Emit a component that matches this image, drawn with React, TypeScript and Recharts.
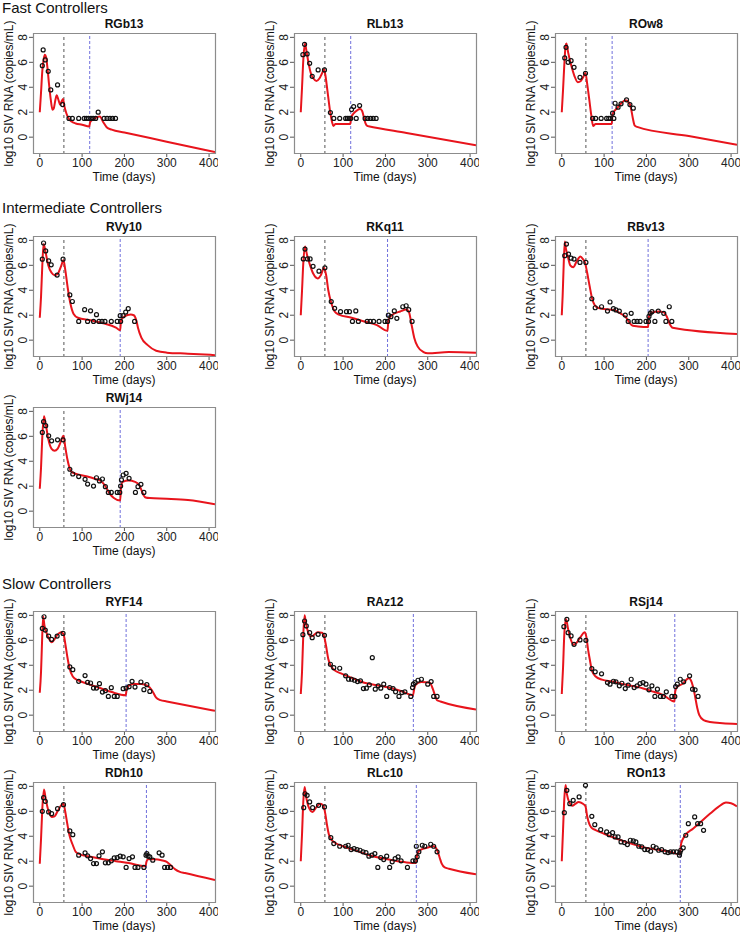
import React from "react";
import {
  ComposedChart,
  Line,
  Scatter,
  XAxis,
  YAxis,
  ReferenceLine,
} from "recharts";

type Pt = [number, number];

const FONT = "'Liberation Sans', Arial, Helvetica, sans-serif";
const X_DOMAIN: [number, number] = [-16, 414];
const Y_DOMAIN: [number, number] = [-1.35, 8.35];
const xTicks = [0, 100, 200, 300, 400];
const yTicks = [0, 2, 4, 6, 8];
const artStart = 57;
const groupTitles = ["Fast Controllers", "Intermediate Controllers", "Slow Controllers"];

// ---- Fast controllers ----
const rgb13Model: Pt[] = [[0,2.0],[3,3.6],[6,5.3],[9,6.2],[12,6.6],[15,6.4],[18,5.6],[22,4.2],[26,3.0],[30,2.2],[33,2.3],[37,3.0],[40,3.35],[44,3.0],[48,2.6],[52,2.9],[55,3.05],[58,2.5],[63,1.9],[68,1.5],[75,1.25],[85,1.1],[100,1.0],[117,0.85],[119,1.2],[125,1.4],[135,1.6],[142,1.65],[150,1.2],[158,0.8],[170,0.6],[200,0.38],[300,-0.36],[414,-1.2]];
const rgb13Obs: Pt[] = [[6,5.73],[8,6.99],[13,6.19],[20,5.28],[26,3.79],[42,4.19],[54,2.61],[69,1.5],[77,1.5],[92,1.5],[105,1.5],[110,1.5],[115,1.5],[121,1.5],[126,1.5],[132,1.5],[138,2.0],[152,1.5],[159,1.5],[166,1.5],[172,1.5],[179,1.5]];

const rlb13Model: Pt[] = [[0,2.0],[3,4.0],[6,6.2],[10,7.5],[13,7.0],[18,6.0],[24,5.1],[30,4.7],[37,4.5],[44,4.7],[50,5.1],[55,5.45],[58,5.0],[62,4.0],[66,2.9],[70,1.9],[74,1.2],[77,0.9],[82,1.05],[100,1.05],[117,1.05],[119,1.6],[125,1.9],[133,2.15],[140,2.25],[145,2.1],[149,1.6],[153,1.1],[157,0.9],[160,0.88],[250,0.34],[414,-0.65]];
const rlb13Obs: Pt[] = [[5,6.61],[9,7.44],[15,6.67],[21,5.92],[27,4.88],[41,5.39],[56,5.39],[70,1.97],[78,1.5],[92,1.5],[106,1.5],[110,1.5],[114,1.5],[118,1.5],[120,2.21],[125,2.45],[131,1.5],[139,2.53],[152,1.5],[158,1.5],[165,1.5],[171,1.5],[178,1.5]];

const row8Model: Pt[] = [[0,2.0],[3,3.8],[6,5.8],[9,7.3],[11,7.5],[15,6.8],[22,5.8],[30,4.9],[38,4.4],[45,4.5],[52,4.9],[56,5.15],[60,4.3],[65,3.0],[70,1.7],[74,0.9],[80,1.05],[100,1.05],[118,1.05],[120,1.85],[130,2.3],[140,2.7],[150,2.95],[158,2.8],[163,2.4],[168,1.5],[172,0.95],[178,0.82],[300,0.09],[414,-0.6]];
const row8Obs: Pt[] = [[7,6.35],[10,7.2],[15,6.0],[22,6.13],[29,5.6],[43,4.8],[56,5.12],[73,1.5],[80,1.5],[93,1.5],[106,1.5],[111,1.5],[115,1.5],[120,1.92],[123,1.5],[126,2.72],[133,2.4],[140,2.67],[153,2.99],[161,2.61],[169,2.32]];

// ---- Intermediate controllers ----
const rvy10Model: Pt[] = [[0,1.8],[3,3.5],[6,6.0],[9,7.7],[14,7.0],[20,6.0],[28,5.4],[35,5.2],[42,5.3],[50,5.9],[56,6.4],[60,5.7],[66,4.2],[72,3.0],[80,2.1],[90,1.8],[120,1.6],[150,1.35],[180,1.0],[190,0.8],[192,1.6],[200,1.9],[215,2.05],[222,2.0],[228,1.6],[232,1.0],[240,0.2],[255,-0.4],[275,-0.85],[300,-1.0],[350,-1.08],[414,-1.2]];
const rvy10Obs: Pt[] = [[6,6.49],[9,7.79],[14,7.15],[21,6.36],[27,6.04],[41,5.22],[55,6.49],[71,3.63],[77,3.1],[92,1.5],[106,2.44],[113,1.5],[120,2.35],[127,1.5],[134,2.04],[140,1.5],[147,1.5],[154,1.5],[169,1.5],[183,1.5],[190,1.96],[191,1.5],[197,1.96],[203,2.25],[209,2.52],[224,1.5]];

const rkq11Model: Pt[] = [[0,2.0],[3,4.0],[6,6.2],[10,7.5],[15,6.8],[22,6.0],[30,5.3],[40,4.95],[48,5.25],[55,5.8],[60,5.2],[65,4.0],[72,3.0],[80,2.3],[90,2.05],[120,1.8],[150,1.5],[180,1.2],[205,0.75],[207,1.6],[215,2.0],[235,2.3],[250,2.45],[256,2.2],[262,1.2],[268,0.2],[276,-0.5],[290,-0.95],[300,-1.05],[350,-0.95],[414,-1.0]];
const rkq11Obs: Pt[] = [[6,6.51],[10,7.3],[16,6.51],[22,6.51],[29,5.92],[43,5.53],[57,5.8],[72,3.09],[80,2.55],[94,2.28],[108,2.28],[115,2.28],[122,1.5],[130,2.34],[136,1.5],[157,1.5],[164,1.5],[172,1.5],[185,1.5],[199,1.5],[205,1.5],[207,2.0],[213,1.88],[221,2.34],[227,1.75],[241,2.68],[249,2.76],[255,2.44],[263,1.5]];

const rbv13Model: Pt[] = [[0,2.0],[2,3.5],[4,5.5],[7,7.9],[10,7.3],[15,6.6],[20,6.0],[27,5.85],[35,6.3],[44,6.7],[50,6.5],[55,6.2],[60,5.4],[66,4.3],[72,3.3],[78,2.8],[85,2.6],[100,2.5],[125,2.4],[140,2.1],[150,1.9],[160,1.4],[168,1.15],[180,1.1],[204,1.05],[206,1.9],[212,2.2],[230,2.3],[240,2.25],[248,1.9],[255,1.3],[262,1.0],[414,0.5]];
const rbv13Obs: Pt[] = [[7,6.77],[11,7.7],[16,6.9],[22,6.57],[29,6.5],[43,6.23],[57,6.23],[71,3.32],[79,2.6],[94,2.68],[108,2.33],[114,3.06],[122,2.52],[128,2.42],[136,2.33],[150,2.01],[157,1.5],[164,2.15],[171,1.5],[178,1.5],[185,1.5],[199,1.5],[205,1.5],[206,1.9],[209,2.15],[213,2.28],[220,1.5],[228,2.33],[241,2.15],[246,1.5],[254,2.68],[260,1.5]];

const rwj14Model: Pt[] = [[0,1.8],[3,3.5],[6,6.0],[10,7.6],[14,7.0],[20,5.8],[28,5.0],[35,4.85],[42,5.0],[50,5.6],[56,6.05],[60,5.2],[65,4.2],[70,3.5],[75,3.15],[90,2.95],[110,2.8],[130,2.6],[145,2.4],[155,2.0],[165,1.4],[175,1.05],[190,0.85],[192,1.9],[196,2.35],[210,2.45],[225,2.35],[235,2.1],[240,1.7],[245,1.3],[250,1.1],[260,1.05],[300,1.0],[350,0.9],[414,0.55]];
const rwj14Obs: Pt[] = [[6,6.31],[9,7.17],[14,6.85],[21,6.04],[28,5.64],[42,5.72],[55,5.72],[71,3.36],[78,2.98],[92,2.77],[107,2.55],[113,2.17],[127,2.01],[134,2.68],[141,2.42],[148,2.58],[155,1.96],[162,1.5],[169,1.5],[183,1.5],[189,1.5],[191,2.01],[193,2.5],[197,2.9],[204,3.03],[211,2.63],[226,1.5],[232,1.96],[239,2.15],[246,1.5]];

// ---- Slow controllers ----
const ryf14Model: Pt[] = [[0,1.8],[3,3.5],[5,5.5],[8,7.9],[11,7.2],[16,6.6],[22,6.1],[28,5.85],[35,6.1],[42,6.45],[50,6.65],[56,6.5],[60,5.8],[65,4.7],[70,3.8],[78,3.1],[90,2.8],[110,2.55],[140,2.2],[170,1.85],[203,1.6],[205,2.0],[210,2.35],[220,2.5],[240,2.5],[255,2.35],[265,2.0],[275,1.4],[285,1.2],[300,1.1],[414,0.35]];
const ryf14Obs: Pt[] = [[6,6.95],[10,7.89],[13,6.82],[21,6.34],[28,6.07],[41,6.34],[55,6.55],[71,3.87],[78,3.65],[92,2.71],[107,3.17],[113,2.63],[120,2.58],[127,2.17],[134,2.17],[141,2.52],[148,1.85],[155,1.96],[162,1.5],[169,2.2],[176,1.5],[183,1.5],[197,2.12],[204,2.17],[211,2.28],[218,2.71],[225,2.25],[239,2.66],[246,2.04],[253,2.44],[260,1.9]];

const raz12Model: Pt[] = [[0,1.7],[3,3.5],[6,6.5],[9,8.0],[12,7.4],[17,6.7],[24,6.3],[30,6.4],[40,6.65],[50,6.6],[56,6.2],[60,5.5],[65,4.5],[72,3.9],[80,3.6],[95,3.35],[120,3.0],[150,2.6],[180,2.4],[210,2.2],[240,1.9],[265,1.6],[268,2.1],[272,2.45],[285,2.65],[305,2.6],[312,2.1],[318,1.5],[322,1.2],[330,1.1],[414,0.45]];
const raz12Obs: Pt[] = [[5,6.45],[9,7.55],[13,7.15],[21,6.61],[27,6.21],[41,6.48],[56,6.4],[70,4.08],[78,3.81],[92,3.76],[106,3.15],[113,2.88],[120,2.88],[127,2.8],[134,2.69],[141,2.75],[148,2.13],[155,2.16],[162,2.43],[169,4.61],[176,2.08],[183,2.35],[189,2.16],[196,2.48],[203,1.5],[210,2.21],[218,2.13],[224,1.87],[232,1.5],[239,1.81],[246,1.87],[260,1.5],[264,2.21],[266,2.48],[270,2.61],[277,2.8],[285,2.88],[300,2.48],[308,2.69],[314,1.5],[322,1.5]];

const rsj14Model: Pt[] = [[0,1.7],[3,3.8],[6,6.5],[10,7.7],[15,6.9],[22,6.0],[28,5.65],[35,5.8],[45,6.3],[54,6.65],[58,6.3],[62,5.3],[66,4.5],[72,3.5],[80,3.1],[95,2.85],[120,2.7],[150,2.45],[180,2.25],[210,1.95],[240,1.6],[266,1.1],[268,1.9],[272,2.25],[285,2.5],[300,2.95],[305,2.8],[310,2.3],[315,1.5],[320,0.6],[325,0.0],[335,-0.4],[350,-0.55],[380,-0.65],[414,-0.7]];
const rsj14Obs: Pt[] = [[5,7.09],[12,7.68],[15,6.61],[22,6.35],[29,5.68],[43,6.03],[57,6.0],[71,3.73],[79,3.47],[94,3.31],[108,2.61],[114,2.48],[122,2.72],[128,2.67],[136,2.35],[142,2.56],[150,2.13],[157,2.4],[164,2.88],[171,2.21],[178,2.35],[185,2.53],[192,2.61],[199,2.48],[206,2.03],[213,2.35],[220,1.5],[226,2.08],[233,1.5],[240,1.5],[247,1.87],[260,1.5],[267,1.5],[269,2.29],[273,2.48],[280,2.88],[288,2.67],[302,3.15],[309,2.08],[315,2.03],[322,1.5]];

const rdh10Model: Pt[] = [[0,1.8],[3,3.8],[6,6.2],[10,7.75],[14,7.0],[20,6.1],[28,5.55],[35,5.6],[42,6.0],[50,6.45],[56,6.6],[60,6.0],[65,5.0],[70,4.1],[78,3.3],[85,2.75],[95,2.55],[120,2.35],[150,2.15],[180,2.0],[210,1.85],[250,1.6],[252,1.95],[256,2.15],[270,2.15],[290,2.05],[300,1.95],[310,1.65],[320,1.35],[331,1.15],[343,1.05],[414,0.5]];
const rdh10Obs: Pt[] = [[6,6.0],[9,7.09],[13,6.8],[21,5.95],[28,5.81],[42,6.21],[56,6.53],[71,4.43],[78,4.13],[92,2.48],[107,2.67],[113,2.43],[120,2.21],[127,1.81],[134,1.81],[140,2.43],[148,2.75],[155,1.87],[162,1.87],[169,2.03],[176,2.27],[183,2.29],[190,2.4],[197,2.35],[204,1.5],[211,2.21],[219,2.35],[225,1.5],[232,1.5],[246,1.5],[251,2.48],[253,2.61],[256,2.4],[260,2.35],[267,2.08],[282,2.67],[289,2.48],[295,1.5],[302,1.5],[309,1.5]];

const rlc10Model: Pt[] = [[0,2.0],[3,4.2],[6,6.8],[9,7.95],[12,7.3],[18,6.4],[28,5.95],[36,6.3],[45,6.6],[52,6.5],[58,5.8],[62,4.9],[66,4.2],[72,3.75],[80,3.5],[100,3.2],[130,2.85],[160,2.5],[190,2.25],[220,2.05],[250,1.9],[272,1.85],[275,2.5],[280,2.85],[300,3.1],[315,3.2],[322,2.9],[328,2.3],[333,1.8],[340,1.5],[350,1.4],[414,0.95]];
const rlc10Obs: Pt[] = [[7,6.29],[10,7.41],[15,7.28],[21,6.75],[28,6.29],[42,6.48],[56,6.35],[71,3.89],[78,3.41],[92,3.2],[106,3.2],[112,3.28],[119,2.93],[126,3.01],[133,2.93],[140,2.88],[147,2.75],[154,2.69],[161,2.4],[168,2.48],[175,2.61],[182,1.5],[189,2.29],[196,2.13],[203,2.4],[210,1.5],[216,1.95],[223,2.21],[230,2.35],[237,2.03],[252,1.5],[265,2.03],[271,2.03],[273,3.2],[275,2.35],[279,2.75],[287,3.28],[293,3.2],[307,3.36],[314,3.2],[322,2.75]];

const ron13Model: Pt[] = [[0,2.0],[3,4.5],[6,7.0],[9,8.1],[12,7.4],[18,6.7],[25,6.45],[32,6.6],[40,6.75],[50,6.6],[56,6.4],[60,5.6],[65,5.0],[70,4.7],[80,4.5],[100,4.2],[130,3.8],[160,3.45],[190,3.15],[220,2.95],[250,2.8],[279,2.55],[282,3.4],[290,4.0],[310,4.6],[330,5.2],[350,5.8],[370,6.35],[388,6.7],[400,6.65],[414,6.4]];
const ron13Obs: Pt[] = [[6,5.89],[12,7.68],[19,6.61],[27,6.88],[41,7.15],[56,8.08],[71,5.6],[78,4.93],[92,4.53],[106,4.35],[112,4.13],[120,4.29],[126,3.95],[133,3.95],[140,3.55],[148,3.49],[155,3.33],[162,3.68],[169,3.63],[175,3.55],[182,3.2],[189,3.15],[196,2.93],[203,2.93],[210,2.8],[216,3.2],[223,3.07],[229,2.88],[236,2.93],[244,2.75],[251,2.69],[257,2.75],[264,2.75],[271,2.75],[278,2.48],[279,2.67],[281,2.88],[287,3.07],[293,4.08],[299,5.01],[314,5.55],[321,5.01],[328,5.01],[335,4.48]];

// second (blue) dashed line per animal
const stopDays = {
  RGb13: 118, RLb13: 118, ROw8: 119,
  RVy10: 190, RKq11: 205, RBv13: 204, RWj14: 190,
  RYF14: 204, RAz12: 266, RSj14: 267,
  RDh10: 252, RLc10: 273, ROn13: 280,
};

const panels = [
  { name: "RGb13", row: 0, col: 0, model: rgb13Model, obs: rgb13Obs },
  { name: "RLb13", row: 0, col: 1, model: rlb13Model, obs: rlb13Obs },
  { name: "ROw8", row: 0, col: 2, model: row8Model, obs: row8Obs },
  { name: "RVy10", row: 1, col: 0, model: rvy10Model, obs: rvy10Obs },
  { name: "RKq11", row: 1, col: 1, model: rkq11Model, obs: rkq11Obs },
  { name: "RBv13", row: 1, col: 2, model: rbv13Model, obs: rbv13Obs },
  { name: "RWj14", row: 2, col: 0, model: rwj14Model, obs: rwj14Obs },
  { name: "RYF14", row: 3, col: 0, model: ryf14Model, obs: ryf14Obs },
  { name: "RAz12", row: 3, col: 1, model: raz12Model, obs: raz12Obs },
  { name: "RSj14", row: 3, col: 2, model: rsj14Model, obs: rsj14Obs },
  { name: "RDh10", row: 4, col: 0, model: rdh10Model, obs: rdh10Obs },
  { name: "RLc10", row: 4, col: 1, model: rlc10Model, obs: rlc10Obs },
  { name: "ROn13", row: 4, col: 2, model: ron13Model, obs: ron13Obs },
];

// layout of the plot boxes
const colLeft = [33, 294, 555];
const rowTop = [33, 236, 407, 611, 782];
const groupBaseline = [13, 213, 589];
const BOX_W = 182;
const BOX_H = 121;
const AX_W = 33;
const TOP_PAD = 4;
const AX_H = 24;

const toRows = (pts: Pt[]) => pts.map(([t, v]) => ({ t, v }));

const YTick = (props: any) => {
  const { x, y, payload } = props;
  return (
    <text
      x={x}
      y={y}
      transform={`rotate(-90 ${x} ${y})`}
      textAnchor="middle"
      fontSize={12}
      fontFamily={FONT}
      fill="#222"
    >
      {payload.value}
    </text>
  );
};

const Dot = (props: any) => {
  const { cx, cy } = props;
  if (cx == null || cy == null) return null;
  return <circle cx={cx} cy={cy} r={2} fill="none" stroke="#111" strokeWidth={1.2} />;
};

const Panel = ({ p }: { p: (typeof panels)[number] }) => {
  const left = colLeft[p.col] - AX_W;
  const top = rowTop[p.row] - TOP_PAD;
  return (
    <div style={{ position: "absolute", left, top }}>
      <ComposedChart
        width={AX_W + BOX_W + 3}
        height={TOP_PAD + BOX_H + AX_H}
        margin={{ top: TOP_PAD, right: 3, bottom: 0, left: 0 }}
      >
        <XAxis
          type="number"
          dataKey="t"
          domain={X_DOMAIN}
          ticks={xTicks}
          allowDataOverflow
          axisLine={false}
          tickSize={3}
          tickMargin={1}
          tickLine={{ stroke: "#555" }}
          tick={{ fontSize: 12, fontFamily: FONT, fill: "#222" }}
          height={AX_H}
          interval={0}
        />
        <YAxis
          type="number"
          domain={Y_DOMAIN}
          ticks={yTicks}
          allowDataOverflow
          axisLine={false}
          tickSize={4}
          tickLine={{ stroke: "#555" }}
          tick={<YTick />}
          width={AX_W}
          interval={0}
        />
        <ReferenceLine x={artStart} stroke="#555" strokeDasharray="3 3" strokeWidth={1} />
        <ReferenceLine
          x={stopDays[p.name as keyof typeof stopDays]}
          stroke="#7070dc"
          strokeDasharray="3 2"
          strokeWidth={1}
        />
        <Line
          data={toRows(p.model)}
          dataKey="v"
          type="monotone"
          stroke="#e8141c"
          strokeWidth={2}
          dot={false}
          activeDot={false}
          isAnimationActive={false}
        />
        <Scatter
          data={toRows(p.obs)}
          dataKey="v"
          shape={<Dot />}
          isAnimationActive={false}
        />
      </ComposedChart>
    </div>
  );
};

export default function App() {
  return (
    <div
      style={{
        position: "absolute",
        left: 0,
        top: 0,
        width: 740,
        height: 932,
        background: "#fff",
        fontFamily: FONT,
      }}
    >
      {panels.map((p) => (
        <Panel key={p.name} p={p} />
      ))}
      <svg
        width={740}
        height={932}
        style={{ position: "absolute", left: 0, top: 0, pointerEvents: "none", zIndex: 5 }}
      >
        {panels.map((p) => {
          const bx = colLeft[p.col] + 0.5;
          const by = rowTop[p.row] + 0.5;
          return (
            <path
              key={`frame-${p.name}`}
              d={`M${bx} ${by} H${bx + BOX_W} V${by + BOX_H - 1} H${bx} Z`}
              fill="none"
              stroke="#8c8c8c"
              strokeWidth={1.2}
            />
          );
        })}
        {groupTitles.map((g, i) => (
          <text key={g} x={2} y={groupBaseline[i]} fontSize={15} fontFamily={FONT} fill="#111">
            {g}
          </text>
        ))}
        {panels.map((p) => {
          const bx = colLeft[p.col];
          const by = rowTop[p.row];
          const cx = bx + BOX_W / 2;
          const cy = by + BOX_H / 2;
          return (
            <g key={p.name} fontFamily={FONT} fill="#111">
              <text x={cx} y={by - 5} textAnchor="middle" fontSize={12} fontWeight="bold">
                {p.name}
              </text>
              <text x={cx} y={by + BOX_H + 27} textAnchor="middle" fontSize={12}>
                Time (days)
              </text>
              <text
                transform={`translate(${bx - 20},${cy}) rotate(-90)`}
                textAnchor="middle"
                fontSize={12}
              >
                log10 SIV RNA (copies/mL)
              </text>
            </g>
          );
        })}
      </svg>
    </div>
  );
}
